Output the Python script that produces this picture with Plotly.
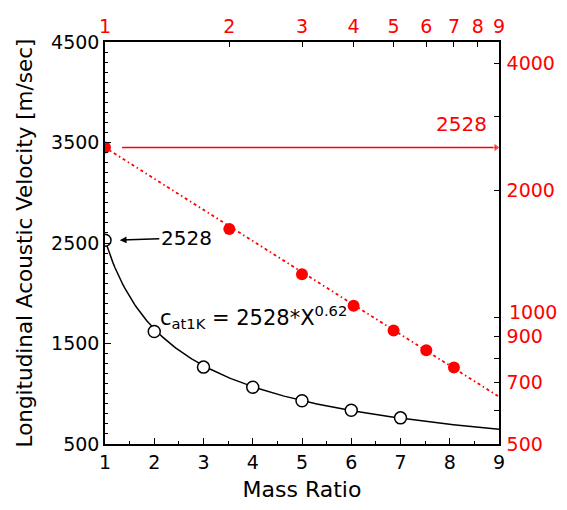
import numpy as np
import plotly.graph_objects as go

# ---- data ----
mass_ratio = [1, 2, 3, 4, 5, 6, 7]
velocity = [2528, 1620, 1265, 1065, 930, 835, 760]

# fit stated in the chart: c = 2528 * X^-0.62
fit_A = 2528
fit_n = 0.62
fit_x = np.linspace(1, 9, 200)
fit_y = fit_A * fit_x ** (-fit_n)

bottom_ticks = [1, 2, 3, 4, 5, 6, 7, 8, 9]
left_ticks = [500, 1500, 2500, 3500, 4500]
top_ticks = [1, 2, 3, 4, 5, 6, 7, 8, 9]
right_labeled = [500, 700, 900, 2000, 4000]
right_unlabeled = [600, 800, 1000, 3000]
right_shifted_label = 1000

RED = "#ff0000"
FONT = "DejaVu Sans, Liberation Sans, Arial, sans-serif"
FS = 19

fig = go.Figure()

# black fit curve (linear axes)
fig.add_trace(go.Scatter(x=fit_x, y=fit_y, mode="lines",
                         line=dict(color="black", width=1.5),
                         xaxis="x", yaxis="y", hoverinfo="skip"))
# black open circles
fig.add_trace(go.Scatter(x=mass_ratio, y=velocity, mode="markers",
                         marker=dict(symbol="circle", size=12, color="white",
                                     line=dict(color="black", width=1.5)),
                         xaxis="x", yaxis="y"))
# red dash-dot fit line on log-log axes
fig.add_trace(go.Scatter(x=fit_x, y=fit_y, mode="lines",
                         line=dict(color=RED, width=1.8, dash="3px,3px,1.5px,3px"),
                         xaxis="x2", yaxis="y2", hoverinfo="skip"))
# red horizontal arrow at 2528
fig.add_trace(go.Scatter(x=[1.1, 8.85], y=[fit_A, fit_A], mode="lines+markers",
                         line=dict(color=RED, width=1.5),
                         marker=dict(symbol=["circle", "triangle-right"], size=[0, 8],
                                     color=RED),
                         xaxis="x2", yaxis="y2", hoverinfo="skip"))
# red filled points on log-log axes
fig.add_trace(go.Scatter(x=mass_ratio, y=velocity, mode="markers",
                         marker=dict(symbol="circle", size=12, color=RED),
                         xaxis="x2", yaxis="y2"))

annotations = [
    dict(x=8.80, y=3540, xref="x", yref="y", text="2528", showarrow=False,
         xanchor="right", yanchor="bottom", font=dict(color=RED, size=20, family=FONT)),
    # black arrow with label pointing to first point
    dict(x=1.30, y=fit_A, xref="x", yref="y", ax=2.65, ay=fit_A + 25,
         axref="x", ayref="y", text="2528", showarrow=True,
         arrowhead=2, arrowsize=0.9, arrowwidth=1.5, arrowcolor="black",
         font=dict(color="black", size=20, family=FONT)),
    # formula
    dict(x=2.08, y=1760, xref="x", yref="y",
         text="c<sub>at1K</sub> = 2528*X<sup>0.62</sup>", showarrow=False,
         xanchor="left", yanchor="middle", font=dict(color="black", size=21, family=FONT)),
    # right-axis label 1000, nudged up as in the reference
    dict(x=1, y=np.log10(right_shifted_label), xref="paper", yref="y2",
         text=str(right_shifted_label), showarrow=False, xanchor="left", yanchor="middle",
         xshift=8, yshift=5, font=dict(color=RED, size=FS, family=FONT)),
]

fig.update_layout(
    width=567, height=510,
    margin=dict(l=105, r=61, t=42, b=65),
    paper_bgcolor="white", plot_bgcolor="white",
    showlegend=False,
    font=dict(family=FONT, size=FS, color="black"),
    annotations=annotations,
    xaxis=dict(range=[1, 9], tickvals=bottom_ticks, ticks="inside", ticklen=6,
               tickcolor="black", showline=True, linecolor="black", linewidth=1.5,
               showgrid=False, zeroline=False,
               minor=dict(dtick=0.5, tick0=1, ticks="inside", ticklen=3, tickcolor="black"),
               title=dict(text="Mass Ratio", standoff=10, font=dict(size=22)),
               tickfont=dict(size=FS, color="black")),
    yaxis=dict(range=[500, 4500], tickvals=left_ticks, ticks="inside", ticklen=6,
               tickcolor="black", showline=True, linecolor="black", linewidth=1.5,
               showgrid=False, zeroline=False,
               minor=dict(dtick=100, tick0=500, ticks="inside", ticklen=3, tickcolor="black"),
               title=dict(text="Longitudinal Acoustic Velocity [m/sec]", standoff=13,
                          font=dict(size=21.5)),
               tickfont=dict(size=FS, color="black")),
    xaxis2=dict(type="log", range=[0, np.log10(9)], overlaying="x", side="top",
                tickvals=top_ticks, ticktext=[str(t) for t in top_ticks],
                ticks="inside", ticklen=5, tickcolor="black",
                showline=True, linecolor="black", linewidth=1.5,
                showgrid=False, zeroline=False,
                tickfont=dict(size=FS, color=RED)),
    yaxis2=dict(type="log", range=[np.log10(500), np.log10(4500)], overlaying="y",
                side="right", tickvals=right_labeled,
                ticktext=[str(v) for v in right_labeled],
                ticks="inside", ticklen=5, tickcolor="black",
                minor=dict(tickvals=right_unlabeled, ticks="inside", ticklen=5,
                           tickcolor="black", showgrid=False),
                showline=True, linecolor="black", linewidth=1.5,
                showgrid=False, zeroline=False, ticklabelstandoff=2,
                tickfont=dict(size=FS, color=RED)),
)

fig.write_html("out.html")
